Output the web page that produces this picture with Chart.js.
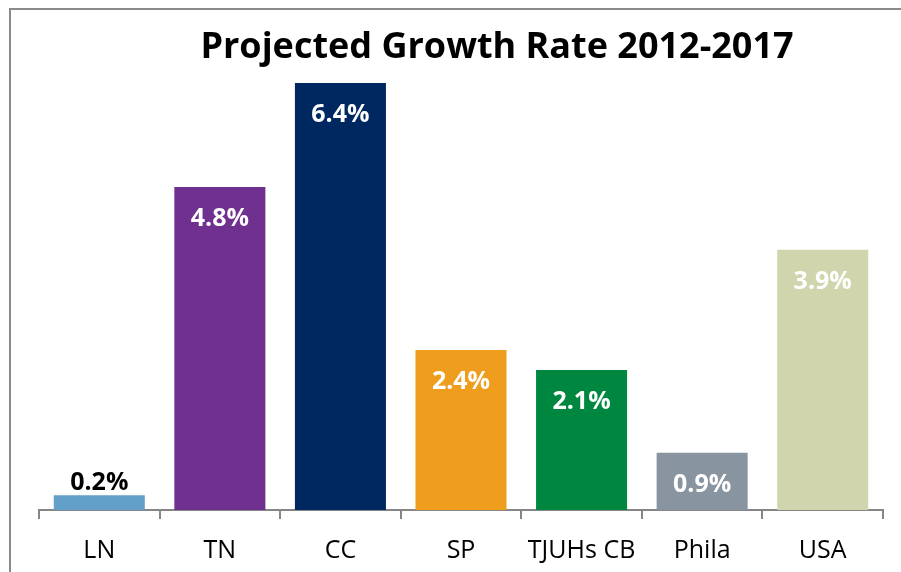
<!DOCTYPE html>
<html>
<head>
<meta charset="utf-8">
<script src="https://cdn.jsdelivr.net/npm/chart.js@4.4.0/dist/chart.umd.min.js"></script>
<style>
  html, body { margin: 0; padding: 0; background: #fff; overflow: hidden; }
  #frame { position: absolute; left: 9px; top: 8px; width: 1000px; height: 700px; border: 2px solid #8a8a8a; }
  #growthChart { position: absolute; left: 0; top: 0; }
</style>
</head>
<body>
<div id="frame"></div>
<canvas id="growthChart" width="901" height="572"></canvas>
<script>
// 2012-2017 projected growth rate (%)
const TITLE = 'Projected Growth Rate 2012-2017';
const regions = ['LN', 'TN', 'CC', 'SP', 'TJUHs CB', 'Phila', 'USA'];
const growthRates = [0.22, 4.84, 6.4, 2.4, 2.1, 0.86, 3.9];
const barColors = ['#62a0ca', '#70308f', '#002860', '#ee9d1c', '#00873f', '#8895a0', '#d1d5ae'];

const FONT = "'Open Sans', 'DejaVu Sans', sans-serif";

// title drawn centred over the bars block, like the original slide
const titlePlugin = {
    id: 'slideTitle',
    afterDraw(chart) {
        const c = chart.ctx;
        c.save();
        c.font = 'bold 36px ' + FONT;
        c.fillStyle = '#000';
        c.textAlign = 'center';
        c.textBaseline = 'middle';
        c.fillText(TITLE, 497, 48);
        c.restore();
    }
};

// value labels: white inside the bar top, black above when the bar is too short
const valueLabels = {
    id: 'valueLabels',
    afterDatasetsDraw(chart) {
        const c = chart.ctx;
        const meta = chart.getDatasetMeta(0);
        c.save();
        c.font = 'bold 25px ' + FONT;
        c.textAlign = 'center';
        c.textBaseline = 'middle';
        meta.data.forEach((bar, i) => {
            const txt = growthRates[i].toFixed(1) + '%';
            const h = bar.base - bar.y;
            if (h < 45) {
                c.fillStyle = '#000';
                c.fillText(txt, bar.x, bar.y - 12);
            } else {
                c.fillStyle = '#fff';
                c.fillText(txt, bar.x, bar.y + 32);
            }
        });
        c.restore();
    }
};

const ctx = document.getElementById('growthChart').getContext('2d');
const chart = new Chart(ctx, {
    type: 'bar',
    data: {
        labels: regions,
        datasets: [{
            data: growthRates,
            backgroundColor: barColors,
            borderWidth: 0,
            categoryPercentage: 1.0,
            barPercentage: 0.755
        }]
    },
    options: {
        responsive: false,
        animation: false,
        layout: { padding: { top: 43, left: 39, right: 18, bottom: 0 } },
        plugins: {
            legend: { display: false },
            title: { display: false },
            tooltip: { enabled: false }
        },
        scales: {
            x: {
                offset: true,
                afterFit(scale) { scale.height = 62; },
                border: { display: true, color: '#868686', width: 2 },
                grid: {
                    offset: true,
                    drawOnChartArea: false,
                    drawTicks: true,
                    tickLength: 9,
                    color: '#868686',
                    lineWidth: 2
                },
                ticks: {
                    color: '#000',
                    padding: 17,
                    font: { family: FONT, size: 25 }
                }
            },
            y: {
                display: false,
                min: 0,
                max: 7
            }
        }
    },
    plugins: [titlePlugin, valueLabels]
});
</script>
</body>
</html>
